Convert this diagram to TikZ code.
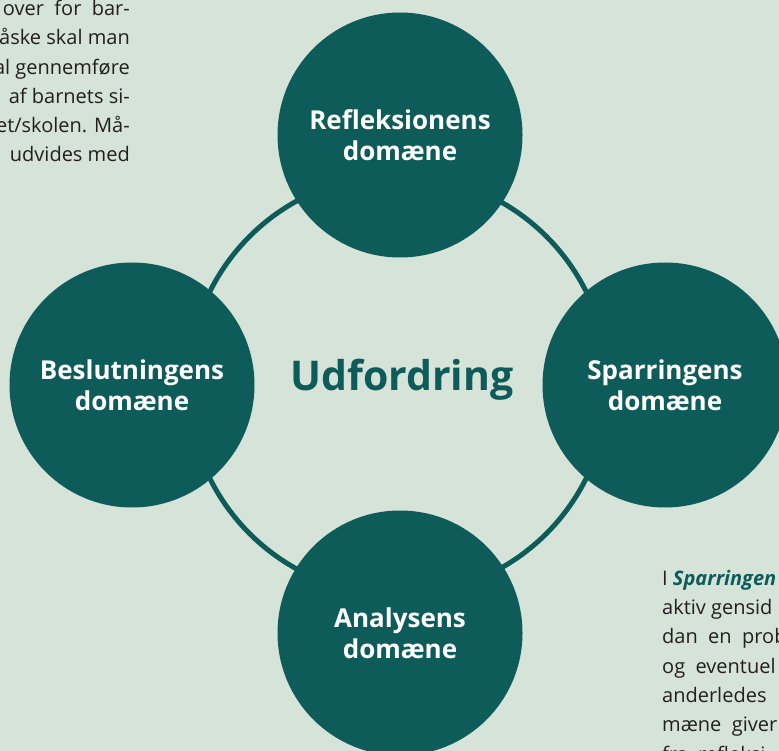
\documentclass[tikz,border=0pt]{standalone}
\usepackage{fontspec}
\setmainfont{Open Sans}
\usepackage{xcolor}
\usepackage{tikz}
\usetikzlibrary{positioning}
\definecolor{domgreen}{RGB}{14,92,89}
\definecolor{bggreen}{RGB}{214,227,217}
\definecolor{bodytext}{RGB}{35,31,32}
\tikzset{
  domcircle/.style={circle, fill=domgreen, text=white, minimum size=245pt, inner sep=0pt,
    align=center, font=\bfseries\fontsize{26}{31}\selectfont},
  ring/.style={draw=domgreen, line width=5pt},
  bodytxt/.style={inner sep=0pt, text=bodytext, font=\fontsize{20}{29.3}\selectfont}
}

\begin{document}
\begin{tikzpicture}[x=1pt, y=-1pt]
          \fill[bggreen] (0,0) rectangle (779,751);
          \useasboundingbox (0,0) rectangle (779,751);
          % ring behind the four domains
          \coordinate (mid) at (398,385);
          \draw[ring] (mid) circle (210);
          \node[domcircle] (refl) at (400,135) {Refleksionens\\domæne};
          \node[domcircle] (beslut) at (132,385) {Beslutningens\\domæne};
          \node[domcircle] (spar) at (665,385) {Sparringens\\domæne};
          \node[domcircle] (anal) at (400,633) {Analysens\\domæne};
          \node[text=domgreen, font=\bfseries\fontsize{41}{48}\selectfont] (udf) at (402,380) {Udfordring};
          % running text cut by the page edges
          \node[bodytxt, anchor=base east, align=right] (txtleft) at (130,162)
            {over\ \ for\ \ bar-\\åske skal man\\al gennemføre\\af barnets si-\\et/skolen. Må-\\udvides med};
          \node[bodytxt, anchor=base west, align=left] (txtright) at (662,761)
            {I \textcolor{domgreen}{\bfseries\itshape Sparringen}\\aktiv gensid\\dan\ \ en\ \ prob\\og\ \ eventuel\\anderledes\\mæne\ \ giver\\fra\ \ refleksi};
        \end{tikzpicture}
\end{document}
